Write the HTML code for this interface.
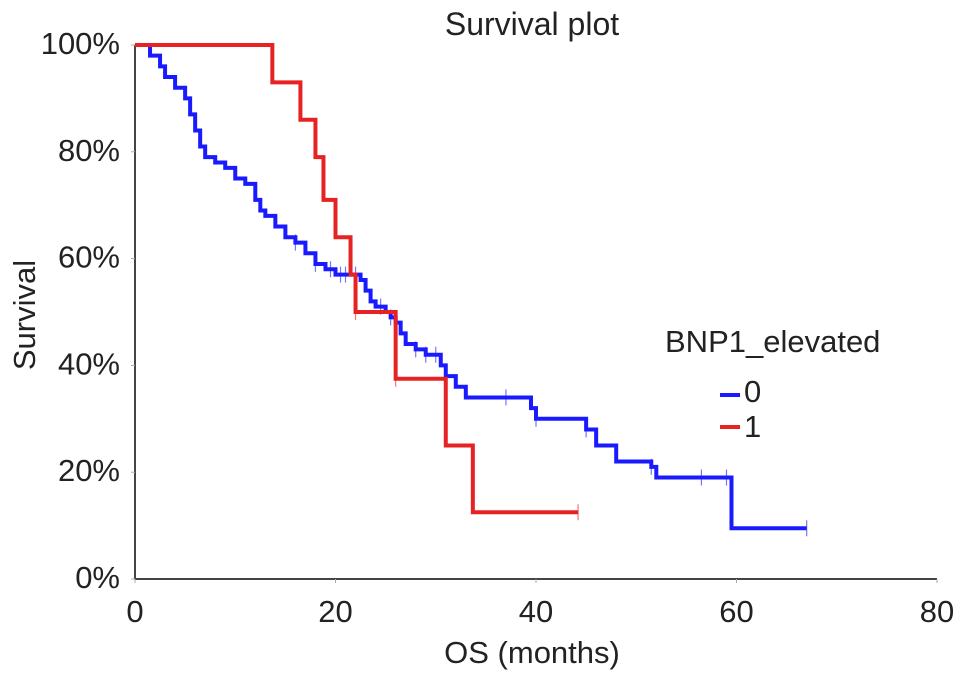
<!DOCTYPE html>
<html><head><meta charset="utf-8"><style>
body{margin:0;background:#fff;font-family:"Liberation Sans",sans-serif}
text{fill:#222}
</style></head><body>
<svg id="c" width="969" height="684" style="display:block">
<text x="532" y="35" font-size="32" text-anchor="middle">Survival plot</text>
<text x="532" y="663" font-size="31" text-anchor="middle">OS (months)</text>
<text transform="translate(35,315) rotate(-90)" font-size="31" text-anchor="middle">Survival</text>
<g id="axes"></g><g id="plot"></g>
<g>
<text x="665" y="352" font-size="31">BNP1_elevated</text>
<line x1="720" y1="395" x2="740" y2="395" stroke="#1a1aff" stroke-width="4"/>
<text x="744" y="402" font-size="31">0</text>
<line x1="720" y1="427" x2="740" y2="427" stroke="#e62222" stroke-width="4"/>
<text x="744" y="437" font-size="31">1</text>
</g>
</svg>
<script>
const xTicks=[0,20,40,60,80];
const yTicks=[0,20,40,60,80,100];
const blueTimes=[0,1.5,2.5,3,4,5,5.5,6,6.5,7,8,9,10,11,12,12.5,13,14,15,16,17,18,19,20,22.5,23,23.5,24,25,25.5,26,26.5,27,28,29,30.5,31,32,33,39.5,40,45,46,48,51.5,52,59.5];
const blueSurv=[100,98,96,94,92,90,87,84,81,79,78,77,75,74,71,69,68,66,64,63,61,59,58,57,56,54,52,51,50,49,48,46,44,43,42,40,38,36,34,32,30,28,25,22,21,19,9.5];
const blueEnd=67;
const blueCens=[16,18,19.5,20.5,21,22,24.5,25.5,26,28,29,30,37,40,45,51.5,56.5,59,67];
const redTimes=[0,13.7,16.5,18,18.8,20,21.5,22,26,31,33.7];
const redSurv=[100,93,86,79,71,64,57,50,37.5,25,12.5];
const redEnd=44.2;
const redCens=[22,26,44.2];
const X=t=>135+t*10.025, Y=s=>579-s*5.34;
const NS="http://www.w3.org/2000/svg";
function mk(tag,attrs,parent){const e=document.createElementNS(NS,tag);for(const k in attrs)e.setAttribute(k,attrs[k]);parent.appendChild(e);return e;}
const ax=document.getElementById('axes'), pl=document.getElementById('plot');
const xa=mk('path',{d:`M${X(0)} ${Y(0)}H${X(80)}M${X(0)} ${Y(0)}V${Y(100)}`,stroke:'#444','stroke-width':2,fill:'none'},ax);


xTicks.forEach(v=>{
 const l=mk('line',{x1:X(v),x2:X(v),y1:Y(0),y2:Y(0)+4,stroke:'#aaa','stroke-width':1},ax);
 
 
 const t=mk('text',{x:X(v),y:622,'font-size':31,'text-anchor':'middle'},ax);t.textContent=v;
 
 
});
yTicks.forEach(v=>{
 const l=mk('line',{x1:X(0)-4,x2:X(0),y1:Y(v),y2:Y(v),stroke:'#aaa','stroke-width':1},ax);
 
 
 const t=mk('text',{x:120,y:Y(v)+9,'font-size':31,'text-anchor':'end'},ax);t.textContent=v+'%';
 
 
});
function stepFn(times,surv,t){let s=surv[0];for(let i=0;i<times.length;i++)if(times[i]<=t)s=surv[i];return s;}
function curve(times,surv,end,cens,color,name){
 let d=`M${X(times[0])} ${Y(surv[0])}`;
 for(let i=1;i<times.length;i++){d+=`H${X(times[i])}V${Y(surv[i])}`;}
 d+=`H${X(end)}`;
 const p=mk('path',{d,stroke:color,'stroke-width':4,fill:'none'},pl);
 
 
 cens.forEach(c=>{const s=stepFn(times,surv,c);
  const m=mk('line',{x1:X(c),x2:X(c),y1:Y(s)-8,y2:Y(s)+8,stroke:color,'stroke-width':1.2,opacity:0.6},pl);
  
  });
}
curve(blueTimes,blueSurv,blueEnd,blueCens,'#1a1aff','group-0');
curve(redTimes,redSurv,redEnd,redCens,'#e62222','group-1');
</script>
</body></html>
